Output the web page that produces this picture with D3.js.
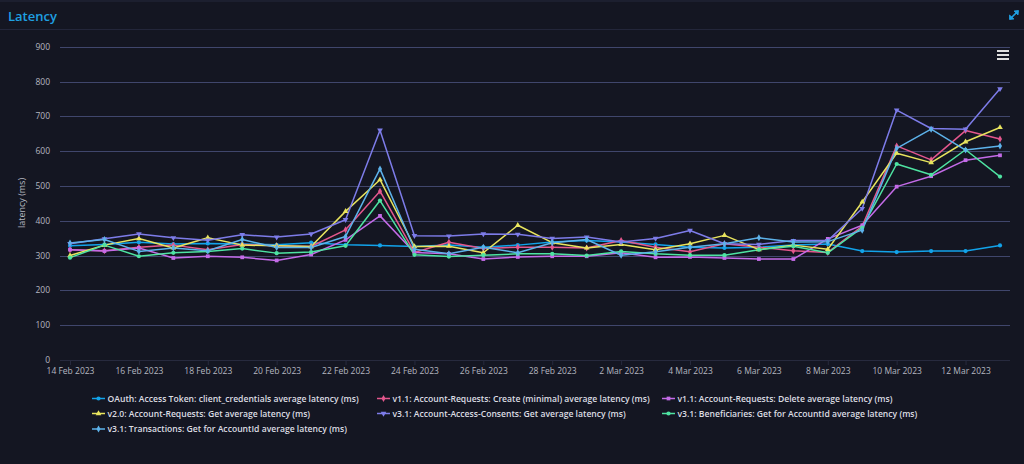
<!DOCTYPE html>
<html>
<head>
<meta charset="utf-8">
<script src="https://cdn.jsdelivr.net/npm/d3@7"></script>
<style>
  html, body { margin: 0; padding: 0; background: #141622; }
  svg { display: block; font-family: "Open Sans", "Noto Sans", sans-serif; }
</style>
</head>
<body>
<svg id="chart" width="1024" height="464"></svg>
<script>
// dates 14 Feb .. 13 Mar 2023 (one point per day)
const dates = [
  "2023-02-14", "2023-02-15", "2023-02-16", "2023-02-17", "2023-02-18", "2023-02-19", "2023-02-20",
  "2023-02-21", "2023-02-22", "2023-02-23", "2023-02-24", "2023-02-25", "2023-02-26", "2023-02-27",
  "2023-02-28", "2023-03-01", "2023-03-02", "2023-03-03", "2023-03-04", "2023-03-05", "2023-03-06",
  "2023-03-07", "2023-03-08", "2023-03-09", "2023-03-10", "2023-03-11", "2023-03-12", "2023-03-13"
];

const oauthToken = [328, 332, 338, 333, 335, 333, 331, 337, 331, 329, 326, 330, 324, 330, 339, 343, 339, 332, 324, 322, 324, 330, 333, 313, 310, 313, 313, 329];
const createMinimal = [317, 314, 324, 330, 317, 332, 328, 326, 374, 485, 309, 338, 320, 324, 324, 322, 343, 324, 311, 334, 324, 314, 309, 385, 615, 575, 659, 635];
const deleteReq = [317, 313, 322, 293, 298, 295, 286, 303, 345, 414, 309, 305, 290, 296, 298, 298, 308, 295, 296, 293, 290, 290, 348, 387, 498, 528, 574, 588];
const getReq = [300, 330, 349, 322, 351, 330, 328, 326, 427, 518, 326, 327, 308, 387, 337, 322, 332, 317, 334, 358, 317, 330, 318, 454, 594, 567, 627, 668];
const accessConsents = [334, 348, 362, 351, 344, 360, 353, 362, 403, 660, 357, 356, 362, 361, 349, 353, 339, 349, 372, 334, 332, 343, 343, 435, 718, 665, 663, 779];
const beneficiaries = [294, 330, 298, 308, 312, 320, 307, 310, 328, 458, 302, 297, 301, 305, 305, 300, 312, 305, 301, 301, 317, 327, 308, 380, 563, 532, 604, 527];
const transactions = [336, 346, 312, 322, 314, 346, 323, 323, 355, 549, 318, 305, 324, 308, 337, 346, 301, 311, 324, 334, 351, 339, 340, 373, 608, 663, 603, 615];

const seriesNames = [
  "OAuth: Access Token: client_credentials average latency (ms)",
  "v1.1: Account-Requests: Create (minimal) average latency (ms)",
  "v1.1: Account-Requests: Delete average latency (ms)",
  "v2.0: Account-Requests: Get average latency (ms)",
  "v3.1: Account-Access-Consents: Get average latency (ms)",
  "v3.1: Beneficiaries: Get for AccountId average latency (ms)",
  "v3.1: Transactions: Get for AccountId average latency (ms)"
];
const seriesValues = [oauthToken, createMinimal, deleteReq, getReq, accessConsents, beneficiaries, transactions];

const tickDates = ["2023-02-14", "2023-02-16", "2023-02-18", "2023-02-20", "2023-02-22", "2023-02-24", "2023-02-26",
  "2023-02-28", "2023-03-02", "2023-03-04", "2023-03-06", "2023-03-08", "2023-03-10", "2023-03-12"];
const yTicks = [0, 100, 200, 300, 400, 500, 600, 700, 800, 900];

const COLORS = ['#12a3ea', '#e4578d', '#c46be8', '#e8e45e', '#7d7ce9', '#4ee3a2', '#5db2ea'];
const SYMBOLS = [d3.symbolCircle, d3.symbolDiamond, d3.symbolSquare, d3.symbolTriangle, d3.symbolTriangle, d3.symbolCircle, d3.symbolDiamond];

const parse = d3.utcParse("%Y-%m-%d");
const fmt = d3.utcFormat("%-d %b %Y");

const svg = d3.select('#chart');

// header
svg.append('rect').attr('x', 0).attr('y', 0).attr('width', 1024).attr('height', 2).attr('fill', '#1c1f2f');
svg.append('line').attr('x1', 0).attr('x2', 1024).attr('y1', 29.5).attr('y2', 29.5)
  .attr('stroke', '#23263a').attr('stroke-width', 1);
svg.append('text')
  .attr('x', 8).attr('y', 20.5)
  .attr('fill', '#1fa0e2')
  .style('font-size', '13px')
  .style('font-weight', '600')
  .text('Latency');

// expand icon
const icon = svg.append('g').attr('stroke', '#1fa0e2').attr('fill', '#1fa0e2').attr('stroke-width', 1.6);
icon.append('line').attr('x1', 1010).attr('y1', 19).attr('x2', 1018).attr('y2', 11);
icon.append('path').attr('d', 'M1014,11 L1018.5,10.5 L1018,15 Z').attr('stroke-width', 0.8);
icon.append('path').attr('d', 'M1009.5,15 L1009.5,19.5 L1014,19 Z').attr('stroke-width', 0.8);

// hamburger
[51, 55, 59].forEach(y => {
  svg.append('rect').attr('x', 997).attr('y', y - 1).attr('width', 12).attr('height', 2).attr('fill', '#e0e0e0');
});

const x = d3.scaleUtc()
  .domain([parse(dates[0]), parse(dates[dates.length - 1])])
  .range([70, 1000]);
const y = d3.scaleLinear().domain([0, 900]).range([360, 46.7]);

// gridlines
svg.append('g')
  .selectAll('line')
  .data(yTicks.filter(d => d > 0))
  .enter()
  .append('line')
  .attr('x1', 60).attr('x2', 1010)
  .attr('y1', d => Math.round(y(d)) + 0.5).attr('y2', d => Math.round(y(d)) + 0.5)
  .attr('stroke', '#40466c')
  .attr('stroke-width', 1);

// y labels
svg.append('g')
  .selectAll('text')
  .data(yTicks)
  .enter()
  .append('text')
  .attr('x', 50)
  .attr('y', d => y(d) + 3)
  .attr('text-anchor', 'end')
  .attr('fill', '#b4b6c0')
  .style('font-size', '8.5px')
  .text(d => d);

svg.append('text')
  .attr('transform', 'translate(25,203) rotate(-90)')
  .attr('text-anchor', 'middle')
  .attr('fill', '#b4b6c0')
  .style('font-size', '9px')
  .text('latency (ms)');

// x axis
const xAxis = svg.append('g').attr('transform', 'translate(0,360)')
  .call(d3.axisBottom(x).tickValues(tickDates.map(parse)).tickFormat(fmt).tickSize(5).tickSizeOuter(0));
xAxis.select('.domain').attr('d', 'M60,0.5H1010').attr('stroke', '#272a3e');
xAxis.selectAll('.tick line').attr('stroke', '#272a3e');
xAxis.selectAll('.tick text')
  .attr('fill', '#b4b6c0')
  .attr('y', 8)
  .style('font-size', '8.5px')
  .style('font-family', '"Open Sans", sans-serif');

// series
const line = d3.line()
  .x((d, i) => x(parse(dates[i])))
  .y(d => y(d));

const plot = svg.append('g');
seriesValues.forEach((vals, s) => {
  plot.append('path')
    .datum(vals)
    .attr('d', line)
    .attr('fill', 'none')
    .attr('stroke', COLORS[s])
    .attr('stroke-width', 1.5)
    .attr('stroke-linejoin', 'round');
});
seriesValues.forEach((vals, s) => {
  plot.append('g')
    .selectAll('path')
    .data(vals)
    .enter()
    .append('path')
    .attr('transform', (d, i) => `translate(${x(parse(dates[i]))},${y(d)})${s === 4 ? ' rotate(180)' : ''}`)
    .attr('d', d3.symbol().type(SYMBOLS[s]).size(14))
    .attr('fill', COLORS[s]);
});

// legend
const legendX = [92, 377, 662];
const legendY = [398.5, 413.5, 429];
const legend = svg.append('g')
  .selectAll('g')
  .data(seriesNames)
  .enter()
  .append('g')
  .attr('transform', (d, i) => `translate(${legendX[i % 3]},${legendY[Math.floor(i / 3)]})`);

legend.append('line')
  .attr('x1', 0).attr('x2', 13).attr('y1', 0).attr('y2', 0)
  .attr('stroke', (d, i) => COLORS[i])
  .attr('stroke-width', 1.5);
legend.append('path')
  .attr('transform', (d, i) => `translate(6.5,0)${i === 4 ? ' rotate(180)' : ''}`)
  .attr('d', (d, i) => d3.symbol().type(SYMBOLS[i]).size(14)())
  .attr('fill', (d, i) => COLORS[i]);
legend.append('text')
  .attr('x', 15.5)
  .attr('y', 3.2)
  .attr('fill', '#dcdde2')
  .style('font-size', '8.6px')
  .style('font-weight', '600')
  .text(d => d);
</script>
</body>
</html>
